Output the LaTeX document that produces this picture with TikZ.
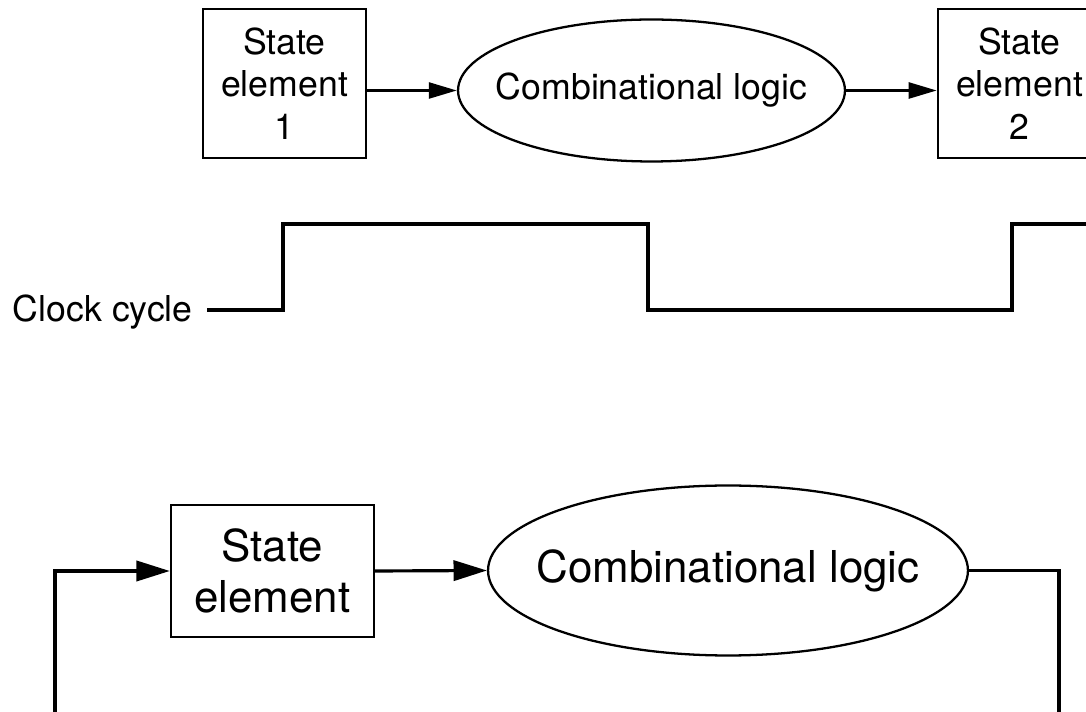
\documentclass[tikz,border=0pt]{standalone}
\usepackage{fontspec}
\setmainfont{TeX Gyre Heros}
\usetikzlibrary{arrows.meta,shapes.geometric}
\tikzset{
  every picture/.style={line join=miter},
  stateel/.style={draw, line width=1.4pt, align=center, inner sep=0pt},
  comblogic/.style={draw, ellipse, line width=1.3pt, inner sep=0pt},
  wire/.style={line width=1.8pt},
  smalltip/.style={-{Triangle[length=16pt,width=9pt]}},
  bigtip/.style={-{Triangle[length=19pt,width=11.5pt]}},
  smallfont/.style={font=\fontsize{20.3}{24.2}\selectfont},
  bigfont/.style={font=\fontsize{25}{29}\selectfont},
}
% zero-width label, so the ellipse keeps its minimum size
\newcommand{\flatlabel}[1]{\makebox[0pt]{#1}}
\begin{document}
\begin{tikzpicture}[x=0.02cm, y=-0.02cm]
\useasboundingbox (0,0) rectangle (1086,712);
\clip (0,0) rectangle (1086,712);

% one clock period between two state elements
\node (se1) [stateel, smallfont, minimum width=3.26cm, minimum height=2.98cm] at (284.5,83.5) {State\\element\\1};
\node (cl1) [comblogic, smallfont, minimum width=7.74cm, minimum height=2.84cm] at (651.5,90.5) {\flatlabel{Combinational logic}};
\node (se2) [stateel, smallfont, minimum width=3.26cm, minimum height=2.98cm] at (1019.5,83.5) {State\\element\\2};
\draw[wire, smalltip] (se1.east |- cl1.west) -- (cl1.west);
\draw[wire, smalltip] (cl1.east) -- (se2.west |- cl1.east);

% clock waveform
\node (clk) [smallfont, anchor=base east, inner sep=0pt] at (193,322) {Clock cycle};
\draw[wire, line width=2pt] (207,310) -| (283,224) -| (648,310) -| (1012,224) -- (1100,224);

% feedback loop
\node (se) [stateel, bigfont, minimum width=4.06cm, minimum height=2.64cm] at (272.5,571) {State\\element};
\node (cl) [comblogic, bigfont, minimum width=9.6cm, minimum height=3.4cm] at (728,570.5) {\flatlabel{Combinational logic}};
\coordinate (fbR) at (1059,730);
\coordinate (fbL) at (55,730);
\draw[wire, bigtip] (se.east) -- (cl.west);
\draw[wire] (cl.east) -| (fbR);
\draw[wire, bigtip] (fbL) |- (se.west);
\end{tikzpicture}
\end{document}
